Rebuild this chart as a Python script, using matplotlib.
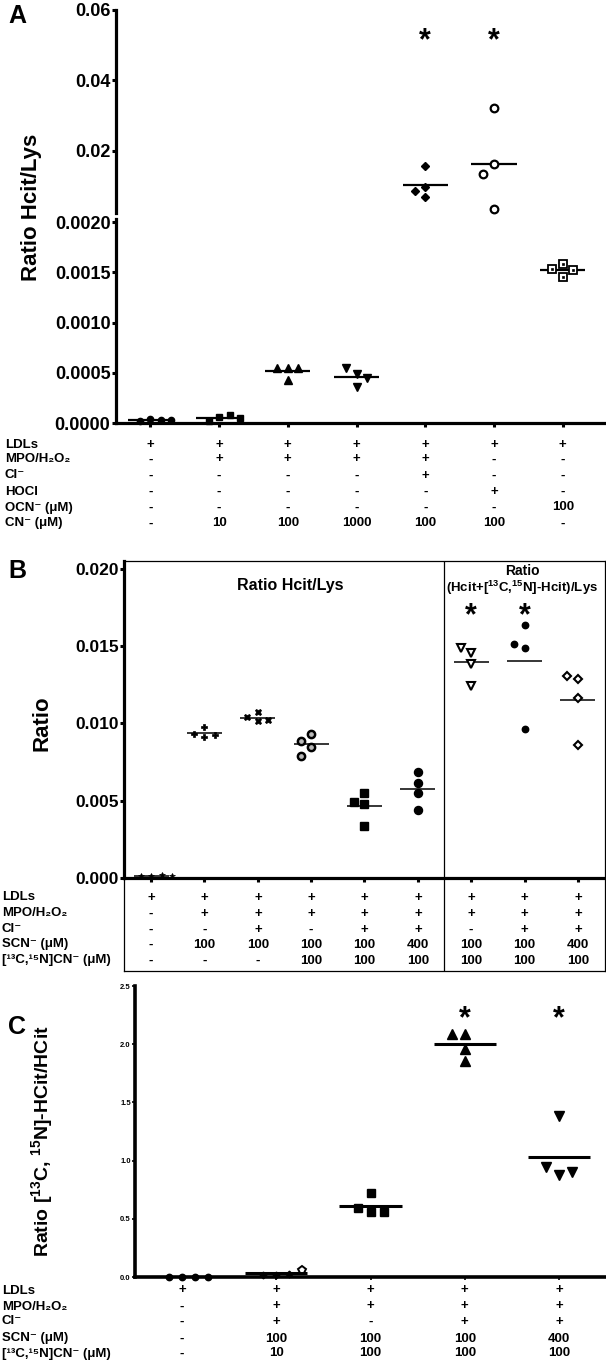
import matplotlib
matplotlib.use("Agg")
import matplotlib.pyplot as plt
import matplotlib.transforms as mtrans
from matplotlib.ticker import FormatStrFormatter
import numpy as np

# ---------------- data ----------------
A_VALUES = [
    [0.00004, 0.00002, 0.00003, 0.00003],
    [0.00006, 0.00002, 0.00008, 0.00005],
    [0.000544, 0.000544, 0.000544, 0.000428],
    [0.000484, 0.000361, 0.000544, 0.000451],
    [0.0157, 0.0099, 0.0087, 0.0070],
    [0.0323, 0.0162, 0.0136, 0.0035],
    [0.00158, 0.00153, 0.00152, 0.00145],
]
A_SIG = [5, 6]
A_ROW_LABELS = ["LDLs", "MPO/H₂O₂", "Cl⁻", "HOCl", "OCN⁻ (μM)", "CN⁻ (μM)"]
A_TABLE = [
    ["+", "+", "+", "+", "+", "+", "+"],
    ["-", "+", "+", "+", "+", "-", "-"],
    ["-", "-", "-", "-", "+", "-", "-"],
    ["-", "-", "-", "-", "-", "+", "-"],
    ["-", "-", "-", "-", "-", "-", "100"],
    ["-", "10", "100", "1000", "100", "100", "-"],
]

B_VALUES = [
    [0.0001, 0.0001, 0.0002, 0.0001],
    [0.00978, 0.0091, 0.00933, 0.00925],
    [0.01075, 0.01013, 0.01043, 0.01019],
    [0.00933, 0.00845, 0.00791, 0.00888],
    [0.00551, 0.0048, 0.00338, 0.0049],
    [0.00688, 0.00613, 0.00551, 0.00441],
    [0.01456, 0.01387, 0.01243, 0.0149],
    [0.01634, 0.0149, 0.00966, 0.01516],
    [0.0129, 0.01161, 0.00858, 0.01308],
]
B_SIG = [7, 8]
B_ROW_LABELS = ["LDLs", "MPO/H₂O₂", "Cl⁻", "SCN⁻ (μM)", "[¹³C,¹⁵N]CN⁻ (μM)"]
B_TABLE = [
    ["+"] * 9,
    ["-", "+", "+", "+", "+", "+", "+", "+", "+"],
    ["-", "-", "+", "-", "+", "+", "-", "+", "+"],
    ["-", "100", "100", "100", "100", "400", "100", "100", "400"],
    ["-", "-", "-", "100", "100", "100", "100", "100", "100"],
]

C_VALUES = [
    [0.0, 0.0, 0.0, 0.0],
    [0.02, 0.02, 0.03, 0.063],
    [0.72, 0.556, 0.595, 0.556],
    [2.086, 1.963, 1.857, 2.09],
    [1.386, 0.88, 0.943, 0.90],
]
C_SIG = [4, 5]
C_ROW_LABELS = B_ROW_LABELS
C_TABLE = [
    ["+", "+", "+", "+", "+"],
    ["-", "+", "+", "+", "+"],
    ["-", "+", "-", "+", "+"],
    ["-", "100", "100", "100", "400"],
    ["-", "10", "100", "100", "100"],
]

# ---------------- style ----------------
plt.rcParams["font.family"] = ["Liberation Sans", "DejaVu Sans"]
plt.rcParams["font.weight"] = "bold"
plt.rcParams["mathtext.fontset"] = "custom"
for k in ["rm", "it", "bf", "sf"]:
    plt.rcParams["mathtext." + k] = "Liberation Sans:bold"

W, H = 606, 1361
fig = plt.figure(figsize=(W / 100, H / 100), dpi=100)


def rect(l, t, r, b):
    return [l / W, 1 - b / H, (r - l) / W, (b - t) / H]


def fx(x):
    return x / W


def fy(y):
    return 1 - y / H


def style_axis(ax, lw, tl, tw, fs, show_bottom=True):
    for s in ["top", "right"]:
        ax.spines[s].set_visible(False)
    ax.spines["left"].set_linewidth(lw)
    ax.spines["bottom"].set_linewidth(lw)
    ax.spines["bottom"].set_visible(show_bottom)
    ax.tick_params(axis="y", direction="out", length=tl, width=tw, labelsize=fs, pad=1)
    ax.tick_params(axis="x", direction="out", length=tl, width=tw, labelbottom=False)
    ax.patch.set_alpha(0)


def swarm(ax_of, x0, vals, diam, step):
    placed, offs = [], []
    for v in vals:
        ax = ax_of(v)
        py = ax.transData.transform((x0, v))[1]
        px = 0.0
        for k in [0, -1, 1, 2, -2, 3, -3]:
            px = k * step
            if all((px - qx) ** 2 + (py - qy) ** 2 >= diam ** 2 - 1e-6 for qx, qy in placed):
                break
        placed.append((px, py))
        offs.append(px)
    return offs


def ppu(ax):
    return ax.transData.transform((1, 0))[0] - ax.transData.transform((0, 0))[0]


def draw_group(ax_of, x0, vals, styles, diam, step, half=0.33, mlw=1.5):
    offs = swarm(ax_of, x0, vals, diam, step)
    for v, o, st in zip(vals, offs, styles):
        ax = ax_of(v)
        xx = x0 + o / ppu(ax)
        st = dict(st)
        inner = st.pop("inner", None)
        ax.plot([xx], [v], linestyle="none", clip_on=False, zorder=4, **st)
        if inner is not None:
            ax.plot([xx], [v], linestyle="none", clip_on=False, zorder=5, **inner)
    m = float(np.mean(vals))
    ax_of(m).hlines(m, x0 - half, x0 + half, color="black", lw=mlw, zorder=3)


def table(ax, labels, rows, ys, label_x, fs):
    tr = mtrans.blended_transform_factory(ax.transData, fig.transFigure)
    for lab, row, y in zip(labels, rows, ys):
        fig.text(fx(label_x), fy(y + 4.5), lab, ha="left", va="baseline", fontsize=fs)
        for j, v in enumerate(row):
            ax.text(j + 1, fy(y + 4.5), v, transform=tr, ha="center", va="baseline",
                    fontsize=fs, clip_on=False)


def stars(ax, groups, yc, fs=22):
    tr = mtrans.blended_transform_factory(ax.transData, fig.transFigure)
    for g in groups:
        ax.text(g, fy(yc + 0.57 * fs * 1.389), "*", transform=tr, ha="center",
                va="baseline", fontsize=fs, clip_on=False)


def mk(marker, ms, face="black", edge="black", mew=1.0, **kw):
    d = dict(marker=marker, markersize=ms, markerfacecolor=face, markeredgecolor=edge,
             markeredgewidth=mew)
    d.update(kw)
    return d


# ---------------- panel A ----------------
A_SPLIT = 0.00203
axAt = fig.add_axes(rect(116, 10, 606, 213))
axAb = fig.add_axes(rect(116, 219, 606, 423))
for ax in (axAt, axAb):
    ax.set_xlim(0.5, 7.63)
axAt.set_ylim(0.0024, 0.06)
axAb.set_ylim(0, A_SPLIT)
style_axis(axAt, 2.3, 3, 2.2, 13, show_bottom=False)
style_axis(axAb, 2.3, 3, 2.2, 13)
axAt.set_xticks([])
axAt.set_yticks([0.02, 0.04, 0.06])
axAt.yaxis.set_major_formatter(FormatStrFormatter("%.2f"))
axAb.set_yticks(np.arange(0, 0.00201, 0.0005))
axAb.yaxis.set_major_formatter(FormatStrFormatter("%.4f"))
axAb.set_xticks(range(1, 8))

a_of = lambda v: axAt if v > A_SPLIT else axAb
A_STYLES = [
    mk("o", 4.5),
    mk("s", 4.3),
    mk("^", 6.0),
    mk("v", 6.0),
    mk("D", 4.0),
    mk("o", 5.5, face="white", mew=1.6),
    mk("s", 5.8, face="white", mew=1.3, inner=mk("s", 1.8, mew=0.5)),
]
for i, vals in enumerate(A_VALUES):
    draw_group(a_of, i + 1, vals, [A_STYLES[i]] * len(vals), diam=10, step=10.5, mlw=1.6)
stars(axAt, A_SIG, 32)
fig.text(fx(8), fy(23), "A", fontsize=18, ha="left", va="baseline")
fig.text(fx(32), fy(207), "Ratio Hcit/Lys", rotation=90, ha="center", va="center", fontsize=16)
table(axAb, A_ROW_LABELS, A_TABLE, [443, 458, 474, 490, 506, 522], 5, 9.5)

# ---------------- panel B ----------------
axB = fig.add_axes(rect(124.5, 561, 604.5, 878))
axB.set_xlim(0.5, 9.5)
axB.set_ylim(0, 0.0205)
axB.spines["left"].set_linewidth(2.3)
axB.spines["bottom"].set_linewidth(2.3)
axB.spines["top"].set_linewidth(0.9)
axB.spines["right"].set_linewidth(0.9)
axB.tick_params(axis="y", direction="out", length=3, width=2.2, labelsize=12.5, pad=1)
axB.tick_params(axis="x", direction="out", length=3, width=2.2, labelbottom=False)
axB.set_xticks(range(1, 10))
axB.set_yticks(np.arange(0, 0.0201, 0.005))
axB.yaxis.set_major_formatter(FormatStrFormatter("%.3f"))
axB.axvline(6.5, color="black", lw=0.9)

axBt = fig.add_axes(rect(124.5, 878, 604.5, 971))
axBt.set_xlim(0.5, 9.5)
axBt.set_ylim(0, 1)
axBt.set_xticks([])
axBt.set_yticks([])
for s in axBt.spines.values():
    s.set_linewidth(0.9)
axBt.axvline(6.5, color="black", lw=0.9)
axBt.patch.set_alpha(0)

b_of = lambda v: axB
B_STYLES = [
    mk("*", 5.0, mew=0.5),
    mk("P", 5.0, mew=0.5),
    mk("X", 5.0, mew=0.5),
    mk("o", 6.0, inner=mk("o", 2.8, face="#bbbbbb", edge="#bbbbbb", mew=0.5)),
    mk("s", 5.5),
    mk("o", 5.8),
    mk("v", 6.0, face="white", mew=1.5),
    mk("o", 4.6),
    mk("D", 4.2, face="white", mew=1.5),
]
for i, vals in enumerate(B_VALUES):
    draw_group(b_of, i + 1, vals, [B_STYLES[i]] * len(vals), diam=8.5, step=10.4, mlw=1.1)
stars(axB, B_SIG, 607)
fig.text(fx(8), fy(578), "B", fontsize=18, ha="left", va="baseline")
fig.text(fx(42), fy(723), "Ratio", rotation=90, ha="center", va="center", fontsize=16)
fig.text(fx(290), fy(586), "Ratio Hcit/Lys", ha="center", va="center", fontsize=11.5)
fig.text(fx(522), fy(571), "Ratio", ha="center", va="center", fontsize=10)
fig.text(fx(522), fy(588), r"(Hcit+[$^{13}$C,$^{15}$N]-Hcit)/Lys", ha="center", va="center",
         fontsize=9.5)
table(axB, B_ROW_LABELS, B_TABLE, [896, 912, 928, 943, 959], 2, 9.5)

# ---------------- panel C ----------------
axC = fig.add_axes(rect(135, 986, 606, 1277))
axC.set_xlim(0.5, 5.5)
axC.set_ylim(0, 2.5)
style_axis(axC, 2.6, 2, 1.2, 5.5)
axC.set_xticks(range(1, 6))
axC.set_yticks(np.arange(0, 2.51, 0.5))
axC.yaxis.set_major_formatter(FormatStrFormatter("%.1f"))

c_of = lambda v: axC
C_STYLES = [
    [mk("o", 4.6)] * 4,
    [mk("D", 3.4)] * 3 + [mk("p", 5.5, face="white", mew=1.4)],
    [mk("s", 5.8)] * 4,
    [mk("^", 6.5)] * 4,
    [mk("v", 6.5)] * 4,
]
for i, vals in enumerate(C_VALUES):
    draw_group(c_of, i + 1, vals, C_STYLES[i], diam=9.5, step=13, mlw=2.2)
stars(axC, C_SIG, 1010)
fig.text(fx(8), fy(1034), "C", fontsize=18, ha="left", va="baseline")
fig.text(fx(42), fy(1141), r"Ratio [$^{13}$C, $^{15}$N]-HCit/HCit", rotation=90,
         ha="center", va="center", fontsize=14)
table(axC, C_ROW_LABELS, C_TABLE, [1289, 1305, 1320, 1337, 1352], 2, 9.5)

fig.savefig("out.png", dpi=100)
